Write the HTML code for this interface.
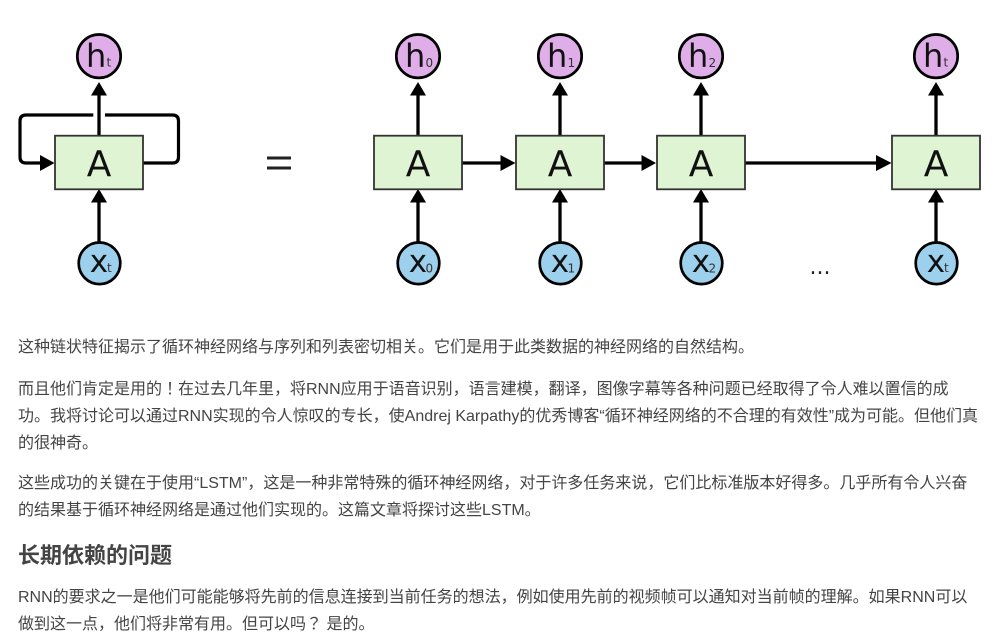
<!DOCTYPE html>
<html lang="ja"><head><meta charset="utf-8"><title>RNN</title>
<style>
html,body{margin:0;padding:0;background:#fff;width:998px;height:639px;overflow:hidden}
svg{position:absolute;left:0;top:0;filter:blur(.35px)}
.l{position:absolute;left:18px;white-space:nowrap;font:16px/27px "Liberation Sans","Noto Sans CJK JP",sans-serif;color:#444}
h2{position:absolute;left:18px;top:539px;margin:0;white-space:nowrap;font:bold 22px/34px "Liberation Sans","Noto Sans CJK JP",sans-serif;color:#444}
</style></head><body>
<svg width="998" height="320" viewBox="0 0 998 320" font-family="'DejaVu Sans',sans-serif">
<defs>
<g id="up"><path d="M0 0V-44" stroke="#000" stroke-width="3.300" fill="none"/><path d="M-8 -40.500H8L0 -54Z" fill="#000"/></g>
<g id="box"><rect x="-44" y="-26.800" width="88" height="53.600" fill="#dff4d3" stroke="#333" stroke-width="1.800"/><text x="0" y="13.500" text-anchor="middle" font-size="36" fill="#111">A</text></g>
<g id="h"><circle r="21.700" fill="#dfaee9" stroke="#000" stroke-width="2.700"/><text x="-13" y="10.700" font-size="32" fill="#111">h</text></g>
<g id="x"><circle r="20.800" fill="#9dd0ec" stroke="#000" stroke-width="2.700"/><text x="-9.800" y="8.900" font-size="31" fill="#111">x</text></g>
</defs>
<g fill="none" stroke="#000" stroke-width="3.200" stroke-linejoin="round">
<path d="M93.300 115H26Q20 115 20 121V157Q20 163 26 163H42"/>
<path d="M105 115H172.500Q178.500 115 178.500 121V157Q178.500 163 172.500 163H143"/>
<path d="M462 163H503M604 163H644M745 163H879"/>
</g>
<path d="M40 155V171L54.500 163ZM500.500 155V171L515.500 163ZM641.500 155V171L656 163ZM876 155V171L891.500 163Z" fill="#000"/>
<use href="#up" transform="translate(99 136)"/><use href="#up" transform="translate(99 243)"/>
<use href="#up" transform="translate(418 136)"/><use href="#up" transform="translate(418 243)"/>
<use href="#up" transform="translate(560 136)"/><use href="#up" transform="translate(560 243)"/>
<use href="#up" transform="translate(701 136)"/><use href="#up" transform="translate(701 243)"/>
<use href="#up" transform="translate(936 136)"/><use href="#up" transform="translate(936 243)"/>
<use href="#box" transform="translate(99 162.500)"/><use href="#box" transform="translate(418 162.500)"/><use href="#box" transform="translate(560 162.500)"/><use href="#box" transform="translate(701 162.500)"/><use href="#box" transform="translate(936 162.500)"/>
<use href="#h" transform="translate(99 56.200)"/><use href="#h" transform="translate(418 56.200)"/><use href="#h" transform="translate(560 56.200)"/><use href="#h" transform="translate(701 56.200)"/><use href="#h" transform="translate(936 56.200)"/>
<use href="#x" transform="translate(99.500 263.300)"/><use href="#x" transform="translate(418.500 263.300)"/><use href="#x" transform="translate(560.500 263.300)"/><use href="#x" transform="translate(701.500 263.300)"/><use href="#x" transform="translate(936.500 263.300)"/>
<g font-size="12" fill="#333">
<text x="106.500" y="66.500">t</text><text x="107" y="272">t</text>
<text x="425.500" y="67">0</text><text x="425.500" y="272.500">0</text>
<text x="567.500" y="67">1</text><text x="567.500" y="272.500">1</text>
<text x="708.500" y="67">2</text><text x="708.500" y="272.500">2</text>
<text x="943.500" y="66.500">t</text><text x="944" y="272">t</text>
</g>
<path d="M267 158H291M267 168H291" stroke="#222" stroke-width="3"/>
<text x="820" y="274" text-anchor="middle" font-size="22" fill="#222">...</text>
</svg>
<div class="l" style="top:334px">这种链状特征揭示了循环神经网络与序列和列表密切相关。它们是用于此类数据的神经网络的自然结构。</div>
<div class="l" style="top:376px">而且他们肯定是用的！在过去几年里，将RNN应用于语音识别，语言建模，翻译，图像字幕等各种问题已经取得了令人难以置信的成</div>
<div class="l" style="top:403px">功。我将讨论可以通过RNN实现的令人惊叹的专长，使Andrej Karpathy的优秀博客“循环神经网络的不合理的有效性”成为可能。但他们真</div>
<div class="l" style="top:430px">的很神奇。</div>
<div class="l" style="top:470px">这些成功的关键在于使用“LSTM”，这是一种非常特殊的循环神经网络，对于许多任务来说，它们比标准版本好得多。几乎所有令人兴奋</div>
<div class="l" style="top:497px">的结果基于循环神经网络是通过他们实现的。这篇文章将探讨这些LSTM。</div>
<h2>长期依赖的问题</h2>
<div class="l" style="top:584px">RNN的要求之一是他们可能能够将先前的信息连接到当前任务的想法，例如使用先前的视频帧可以通知对当前帧的理解。如果RNN可以</div>
<div class="l" style="top:611px">做到这一点，他们将非常有用。但可以吗？ 是的。</div>
</body></html>
